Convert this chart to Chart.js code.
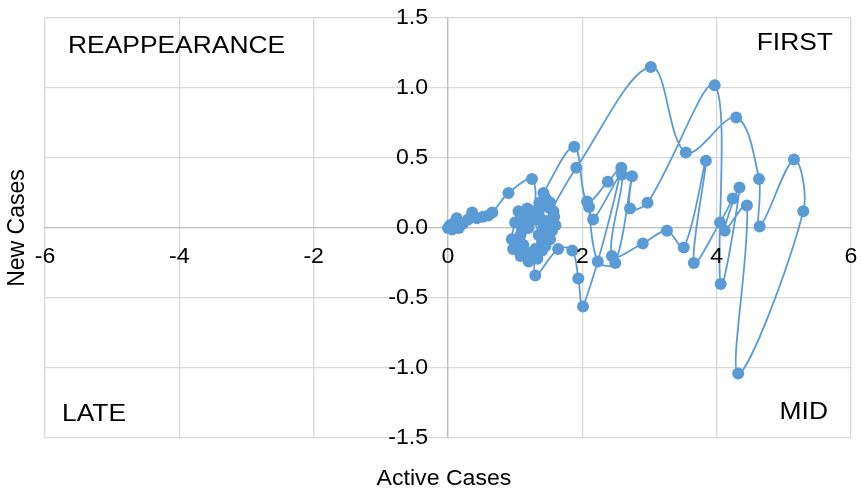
<!DOCTYPE html>
<html>
<head>
<meta charset="utf-8">
<script src="https://cdn.jsdelivr.net/npm/chart.js@4/dist/chart.umd.min.js"></script>
<style>
  html, body { margin: 0; padding: 0; background: #ffffff; }
  #wrap { width: 861px; height: 498px; }
</style>
</head>
<body>
<div id="wrap"><canvas id="c" width="861" height="498"></canvas></div>
<script>
// ---- data ----
const activeCases = [
  0.00, 0.03, 0.06, 0.10, 0.13, 0.16, 0.22, 0.30, 0.36, 0.43, 0.52, 0.60, 0.66, 0.90, 1.25,
  1.27, 1.05, 1.00, 0.95, 1.02, 1.16, 1.30, 1.40, 1.50, 1.55, 1.52, 1.44, 1.36, 1.25, 1.15,
  1.08, 1.12, 1.25, 1.40, 1.52, 1.60, 1.57, 1.47, 1.38, 1.30, 1.20, 1.10, 1.00, 0.97, 1.08,
  1.20, 1.33, 1.45, 1.55, 1.58, 1.52, 1.35, 1.42, 1.46, 1.38, 1.18, 1.13, 1.22, 1.42,
  1.88, 2.07, 2.38, 2.58, 2.01, 1.94, 1.85, 1.64, 1.30, 1.35, 1.45,
  1.91, 3.02, 3.54, 4.29, 4.63, 4.64, 5.15, 5.29, 4.32, 4.45, 4.12, 4.34, 4.06, 3.97,
  2.97, 2.71, 2.74, 2.49, 2.23, 2.10, 2.16, 2.59, 2.44, 2.90, 3.26, 3.51, 3.84, 3.66, 4.05, 4.24
];
const newCases = [
  0.00, 0.02, -0.01, 0.04, 0.07, 0.00, 0.03, 0.06, 0.11, 0.07, 0.08, 0.09, 0.11, 0.25, 0.35,
  0.12, 0.12, 0.04, -0.08, -0.14, -0.17, -0.15, -0.10, -0.03, 0.06, 0.14, 0.22, 0.18, 0.10, 0.03,
  -0.05, -0.12, -0.19, -0.16, -0.08, 0.02, 0.12, 0.20, 0.15, 0.06, 0.00, -0.02, -0.10, -0.15, -0.20,
  -0.24, -0.22, -0.13, -0.02, 0.08, 0.18, 0.10, 0.02, -0.08, -0.05, 0.14, 0.08, 0.05, 0.25,
  0.58, 0.19, 0.33, 0.43, -0.56, -0.36, -0.16, -0.15, -0.34, -0.05, 0.05,
  0.43, 1.15, 0.54, 0.79, 0.35, 0.01, 0.49, 0.12, -1.04, 0.16, -0.02, 0.29, -0.40, 1.02,
  0.18, 0.14, 0.37, -0.25, -0.24, 0.15, 0.06, 0.38, -0.20, -0.11, -0.02, -0.14, 0.48, -0.25, 0.04, 0.21
];
const xTickLabels = ['-6', '-4', '-2', '0', '2', '4', '6'];
const yTickLabels = ['-1.5', '-1.0', '-0.5', '0.0', '0.5', '1.0', '1.5'];
const quadrantLabels = ['REAPPEARANCE', 'FIRST', 'LATE', 'MID'];
const xTitle = 'Active Cases';
const yTitle = 'New Cases';

const points = activeCases.map((x, i) => ({ x: x, y: newCases[i] }));
const BLUE = '#5B9BD5';
const FONT = '22px "Liberation Sans", Arial, sans-serif';
const QFONT = '24px "Liberation Sans", Arial, sans-serif';
const SX = 1.05;
const QSX = 1.1;

function txt(ctx, s, x, y, align, sx) {
  ctx.save();
  ctx.translate(x, y);
  ctx.scale(sx, 1);
  ctx.textAlign = align;
  ctx.textBaseline = 'middle';
  ctx.fillText(s, 0, 0);
  ctx.restore();
}

const labelsPlugin = {
  id: 'labels',
  afterDraw(chart) {
    const ctx = chart.ctx;
    const xs = chart.scales.x, ys = chart.scales.y;
    const x0 = xs.getPixelForValue(0), y0 = ys.getPixelForValue(0);
    ctx.save();
    ctx.fillStyle = '#000000';
    ctx.font = FONT;
    xTickLabels.forEach(t => {
      txt(ctx, t, xs.getPixelForValue(parseFloat(t)), y0 + 29, 'center', SX);
    });
    yTickLabels.forEach(t => {
      txt(ctx, t, x0 - 20, ys.getPixelForValue(parseFloat(t)), 'right', SX);
    });
    txt(ctx, xTitle, x0 - 4, 479, 'center', SX);
    ctx.save();
    ctx.translate(18, y0);
    ctx.rotate(-Math.PI / 2);
    ctx.textAlign = 'center';
    ctx.textBaseline = 'middle';
    ctx.font = '23px "Liberation Sans", Arial, sans-serif';
    ctx.fillText(yTitle, 0, 0);
    ctx.restore();
    const a = chart.chartArea;
    ctx.font = QFONT;
    txt(ctx, quadrantLabels[0], a.left + 23, a.top + 28, 'left', QSX);
    txt(ctx, quadrantLabels[1], a.right - 18, a.top + 25, 'right', QSX);
    txt(ctx, quadrantLabels[2], a.left + 17, a.bottom - 24, 'left', QSX);
    txt(ctx, quadrantLabels[3], a.right - 23, a.bottom - 26, 'right', QSX);
    ctx.restore();
  }
};

new Chart(document.getElementById('c'), {
  type: 'scatter',
  data: {
    datasets: [{
      data: points,
      showLine: true,
      tension: 0.35,
      borderColor: BLUE,
      borderWidth: 1.8,
      backgroundColor: BLUE,
      pointBackgroundColor: BLUE,
      pointBorderColor: BLUE,
      pointRadius: 6,
      pointBorderWidth: 0
    }]
  },
  options: {
    responsive: false,
    animation: false,
    events: [],
    layout: { padding: { left: 45, right: 10, top: 18, bottom: 60 } },
    plugins: { legend: { display: false }, tooltip: { enabled: false } },
    scales: {
      x: {
        type: 'linear',
        min: -6, max: 6,
        position: { y: 0 },
        ticks: { stepSize: 2, display: false },
        grid: { color: '#d9d9d9', lineWidth: 1.3, drawTicks: false },
        border: { color: '#bfbfbf', width: 1.3 }
      },
      y: {
        type: 'linear',
        min: -1.5, max: 1.5,
        position: { x: 0 },
        ticks: { stepSize: 0.5, display: false },
        grid: { color: '#d9d9d9', lineWidth: 1.3, drawTicks: false },
        border: { color: '#bfbfbf', width: 1.3 }
      }
    }
  },
  plugins: [labelsPlugin]
});
</script>
</body>
</html>
